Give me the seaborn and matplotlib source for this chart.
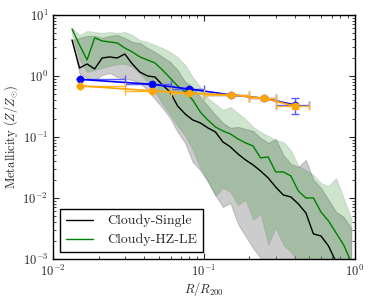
import matplotlib
matplotlib.use('Agg')
import matplotlib.pyplot as plt
import seaborn as sns


sns.set_style("ticks")
plt.rcParams['font.family'] = ['cmr10', 'DejaVu Serif']
plt.rcParams['mathtext.fontset'] = 'cm'
plt.rcParams['axes.formatter.use_mathtext'] = True
plt.rcParams['font.size'] = 9
plt.rcParams['axes.labelsize'] = 9
plt.rcParams['xtick.labelsize'] = 9
plt.rcParams['ytick.labelsize'] = 9
plt.rcParams['legend.fontsize'] = 10

# radial bins (R/R200)
r_bins = [0.01334, 0.01496, 0.01679, 0.01884, 0.02113, 0.02371, 0.02661, 0.02985,
          0.03350, 0.03758, 0.04217, 0.04732, 0.05309, 0.05957, 0.06683, 0.07499,
          0.08414, 0.09441, 0.1059, 0.1189, 0.1334, 0.1496, 0.1679, 0.1884,
          0.2113, 0.2371, 0.2661, 0.2985, 0.3350, 0.3758, 0.4217, 0.4732,
          0.5309, 0.5957, 0.6683, 0.7499, 0.8414, 0.9441]

# Cloudy-Single: median and spread
single_med = [3.89, 1.35, 1.57, 1.30, 1.97, 2.05, 1.97, 2.29, 1.57, 1.16, 1.00, 0.96,
              0.71, 0.547, 0.322, 0.238, 0.190, 0.170, 0.141, 0.121, 0.0828, 0.0686,
              0.0526, 0.0420, 0.0348, 0.0277, 0.0213, 0.0151, 0.0112, 0.0104, 0.00798,
              0.00568, 0.00257, 0.00238, 0.00163, 0.00089, 0.0005, 0.0003]
single_hi = [3.89, 4.20, 4.53, 4.53, 4.20, 4.53, 4.70, 4.20, 3.61, 3.47, 2.88, 2.47,
             2.05, 1.70, 1.25, 0.798, 0.661, 0.453, 0.322, 0.230, 0.170, 0.141,
             0.146, 0.135, 0.125, 0.0964, 0.0798, 0.0927, 0.0507, 0.0361, 0.0322,
             0.0420, 0.0197, 0.0146, 0.00927, 0.00589, 0.00489, 0.00322]
single_lo = [3.89, 1.10, 0.927, 0.859, 1.04, 1.12, 0.96, 0.893, 0.859, 0.767, 0.589,
             0.420, 0.299, 0.205, 0.121, 0.0798, 0.0389, 0.0288, 0.0190, 0.0112,
             0.00711, 0.00828, 0.00375, 0.00238, 0.00151, 0.00104, 0.00066, 0.0004,
             0.0003, 0.0002, 0.0002, 0.0002, 0.0002, 0.0002, 0.0002, 0.0002, 0.0002,
             0.0002]

# Cloudy-HZ-LE: median and spread
hz_med = [5.89, 3.22, 1.83, 4.20, 3.75, 3.61, 3.47, 2.88, 2.47, 2.05, 1.83, 1.63,
          1.25, 0.927, 0.686, 0.547, 0.404, 0.257, 0.190, 0.146, 0.125, 0.112,
          0.0927, 0.0798, 0.0712, 0.0453, 0.0470, 0.0267, 0.0267, 0.0230, 0.0130,
          0.0100, 0.0100, 0.00589, 0.00420, 0.00267, 0.00170, 0.00089]
hz_hi = [6.12, 4.70, 5.47, 5.26, 5.07, 5.26, 5.07, 5.26, 4.70, 3.89, 3.61, 3.22,
         2.88, 2.47, 2.05, 1.51, 0.96, 0.661, 0.436, 0.348, 0.277, 0.310, 0.247,
         0.197, 0.146, 0.121, 0.104, 0.0893, 0.0828, 0.0612, 0.0335, 0.0288,
         0.0238, 0.0176, 0.0157, 0.0213, 0.0100, 0.0047]
hz_lo = [4.70, 1.83, 1.16, 1.25, 1.35, 1.46, 1.57, 1.57, 1.41, 1.08, 0.798, 0.547,
         0.348, 0.230, 0.151, 0.104, 0.0612, 0.0310, 0.0183, 0.0108, 0.0146,
         0.0125, 0.00767, 0.00927, 0.00436, 0.00547, 0.00170, 0.00322, 0.00170,
         0.00130, 0.00089, 0.0007, 0.0006, 0.0005, 0.0004, 0.0003, 0.0003, 0.0002]

# observed profiles with bin widths
r_obs = [0.015, 0.045, 0.08, 0.15, 0.25, 0.4]
r_err_lo = [0.0, 0.015, 0.02, 0.05, 0.05, 0.1]
r_err_hi = [0.015, 0.015, 0.02, 0.05, 0.05, 0.1]
blue_z = [0.88, 0.73, 0.61, 0.49, 0.43, 0.335]
blue_zerr = [0.0, 0.0, 0.0, 0.02, 0.03, 0.1]
orange_z = [0.69, 0.57, 0.52, 0.49, 0.43, 0.32]
orange_zerr = [0.0, 0.0, 0.0, 0.0, 0.02, 0.03]


fig = plt.figure(figsize=(3.74, 2.99), dpi=100)
ax = fig.add_axes([0.142, 0.134, 0.807, 0.816])
ax.set_xscale('log')
ax.set_yscale('log')

ax.fill_between(r_bins, single_lo, single_hi, facecolor='gray', alpha=0.4,
                edgecolor='gray', lw=0.8, zorder=1)
ax.fill_between(r_bins, hz_lo, hz_hi, facecolor='green', alpha=0.2,
                edgecolor='gray', lw=0.8, zorder=2)

sns.lineplot(x=r_bins, y=single_med, color='k', lw=1.0, ax=ax,
             label='Cloudy-Single', zorder=3)
sns.lineplot(x=r_bins, y=hz_med, color='green', lw=1.0, ax=ax,
             label='Cloudy-HZ-LE', zorder=3)

ax.errorbar(r_obs, blue_z, xerr=[r_err_lo, r_err_hi], yerr=blue_zerr,
            color='blue', marker='o', ms=4.5, lw=1.2, ecolor='#5a5aff',
            elinewidth=1, capsize=3, zorder=4)
ax.errorbar(r_obs, orange_z, xerr=[r_err_lo, r_err_hi], yerr=orange_zerr,
            color='orange', marker='o', ms=4.5, lw=1.2, ecolor='#ffb733',
            elinewidth=1, capsize=3, zorder=5)

ax.set_xlim(1e-2, 1)
ax.set_ylim(1e-3, 10)
ax.set_xlabel(r'$R/R_{200}$', labelpad=1)
ax.set_ylabel(r'Metallicity $(Z/Z_{\odot})$', labelpad=2)

ax.tick_params(which='both', direction='in', top=True, right=True)
ax.tick_params(which='major', length=4, width=0.8)
ax.tick_params(which='minor', length=2, width=0.6)
for sp in ax.spines.values():
    sp.set_color('black')
    sp.set_linewidth(1.0)

handles, labels = ax.get_legend_handles_labels()
leg = ax.legend(handles[:2], labels[:2], loc='lower left', fancybox=False,
                framealpha=1, edgecolor='black', handlelength=2.0,
                labelspacing=0.45, borderaxespad=0.5, handletextpad=1.0)
leg.get_frame().set_linewidth(1.0)

fig.savefig('out.png', dpi=100)
